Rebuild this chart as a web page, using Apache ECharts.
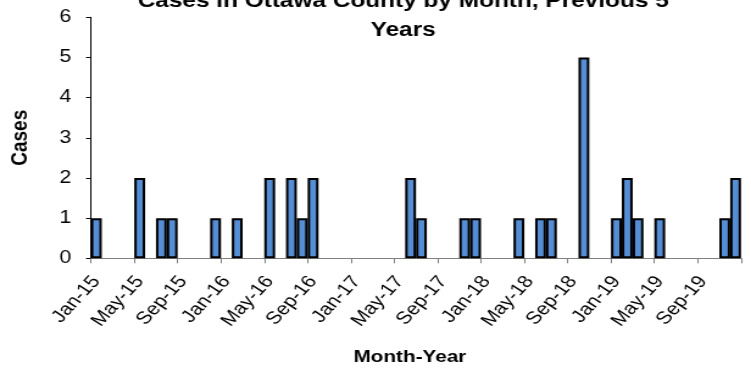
<!DOCTYPE html>
<html>
<head>
<meta charset="utf-8">
<script src="https://cdn.jsdelivr.net/npm/echarts@6/dist/echarts.min.js"></script>
<style>
  html, body { margin: 0; padding: 0; background: #ffffff; overflow: hidden; width: 751px; height: 371px; }
  #chart { width: 616px; height: 371px; transform: scaleX(1.21916); transform-origin: 0 0; }
</style>
</head>
<body>
<div id="chart"></div>
<script>
const months = [
  'Jan-15','Feb-15','Mar-15','Apr-15','May-15','Jun-15','Jul-15','Aug-15','Sep-15','Oct-15','Nov-15','Dec-15',
  'Jan-16','Feb-16','Mar-16','Apr-16','May-16','Jun-16','Jul-16','Aug-16','Sep-16','Oct-16','Nov-16','Dec-16',
  'Jan-17','Feb-17','Mar-17','Apr-17','May-17','Jun-17','Jul-17','Aug-17','Sep-17','Oct-17','Nov-17','Dec-17',
  'Jan-18','Feb-18','Mar-18','Apr-18','May-18','Jun-18','Jul-18','Aug-18','Sep-18','Oct-18','Nov-18','Dec-18',
  'Jan-19','Feb-19','Mar-19','Apr-19','May-19','Jun-19','Jul-19','Aug-19','Sep-19','Oct-19','Nov-19','Dec-19'
];
const cases = [
  1,0,0,0,2,0,1,1,0,0,0,1,
  0,1,0,0,2,0,2,1,2,0,0,0,
  0,0,0,0,0,2,1,0,0,0,1,1,
  0,0,0,1,0,1,1,0,0,5,0,0,
  1,2,1,0,1,0,0,0,0,0,1,2
];
const yTicks = [0, 1, 2, 3, 4, 5, 6];
const titleText = 'Cases in Ottawa County by Month, Previous 5\nYears';
const xName = 'Month-Year';
const yName = 'Cases';

const chart = echarts.init(document.getElementById('chart'), null, { renderer: 'canvas' });
const font = '"Liberation Sans", Arial, sans-serif';
chart.setOption({
  animation: false,
  backgroundColor: '#ffffff',
  title: {
    text: titleText,
    left: 325.7,
    top: -18,
    textAlign: 'center',
    textStyle: { fontFamily: font, fontSize: 20, fontWeight: 'bold', color: '#000', lineHeight: 29 }
  },
  grid: { left: 74.6, right: 8.2, top: 17.3, bottom: 112.7, containLabel: false, outerBoundsMode: 'none' },
  xAxis: {
    type: 'category',
    data: months,
    boundaryGap: true,
    name: xName,
    nameLocation: 'middle',
    nameGap: 91,
    nameTextStyle: { fontFamily: font, fontSize: 17, fontWeight: 'bold', color: '#000', padding: [0, 10, 0, 0] },
    axisLine: { show: true, lineStyle: { color: '#808080', width: 1 } },
    axisTick: { show: true, interval: 3, length: 5, inside: false, lineStyle: { color: '#808080' } },
    axisLabel: { interval: 3, rotate: 52, margin: 20, fontFamily: font, fontSize: 17.5, color: '#000' },
    splitLine: { show: false }
  },
  yAxis: {
    type: 'value',
    min: yTicks[0],
    max: yTicks[yTicks.length - 1],
    interval: 1,
    name: yName,
    nameLocation: 'middle',
    nameGap: 48,
    nameTextStyle: { fontFamily: font, fontSize: 19, fontWeight: 'bold', color: '#000' },
    axisLine: { show: true, lineStyle: { color: '#000', width: 1 } },
    axisTick: { show: true, length: 4, lineStyle: { color: '#000' } },
    axisLabel: { margin: 16, fontFamily: font, fontSize: 17.5, color: '#000' },
    splitLine: { show: false }
  },
  series: [{
    type: 'bar',
    data: cases.map(v => (v === 0 ? null : v)),
    barCategoryGap: '0%',
    itemStyle: { color: '#558ED5', borderColor: '#000', borderWidth: 2 }
  }]
});
</script>
</body>
</html>
